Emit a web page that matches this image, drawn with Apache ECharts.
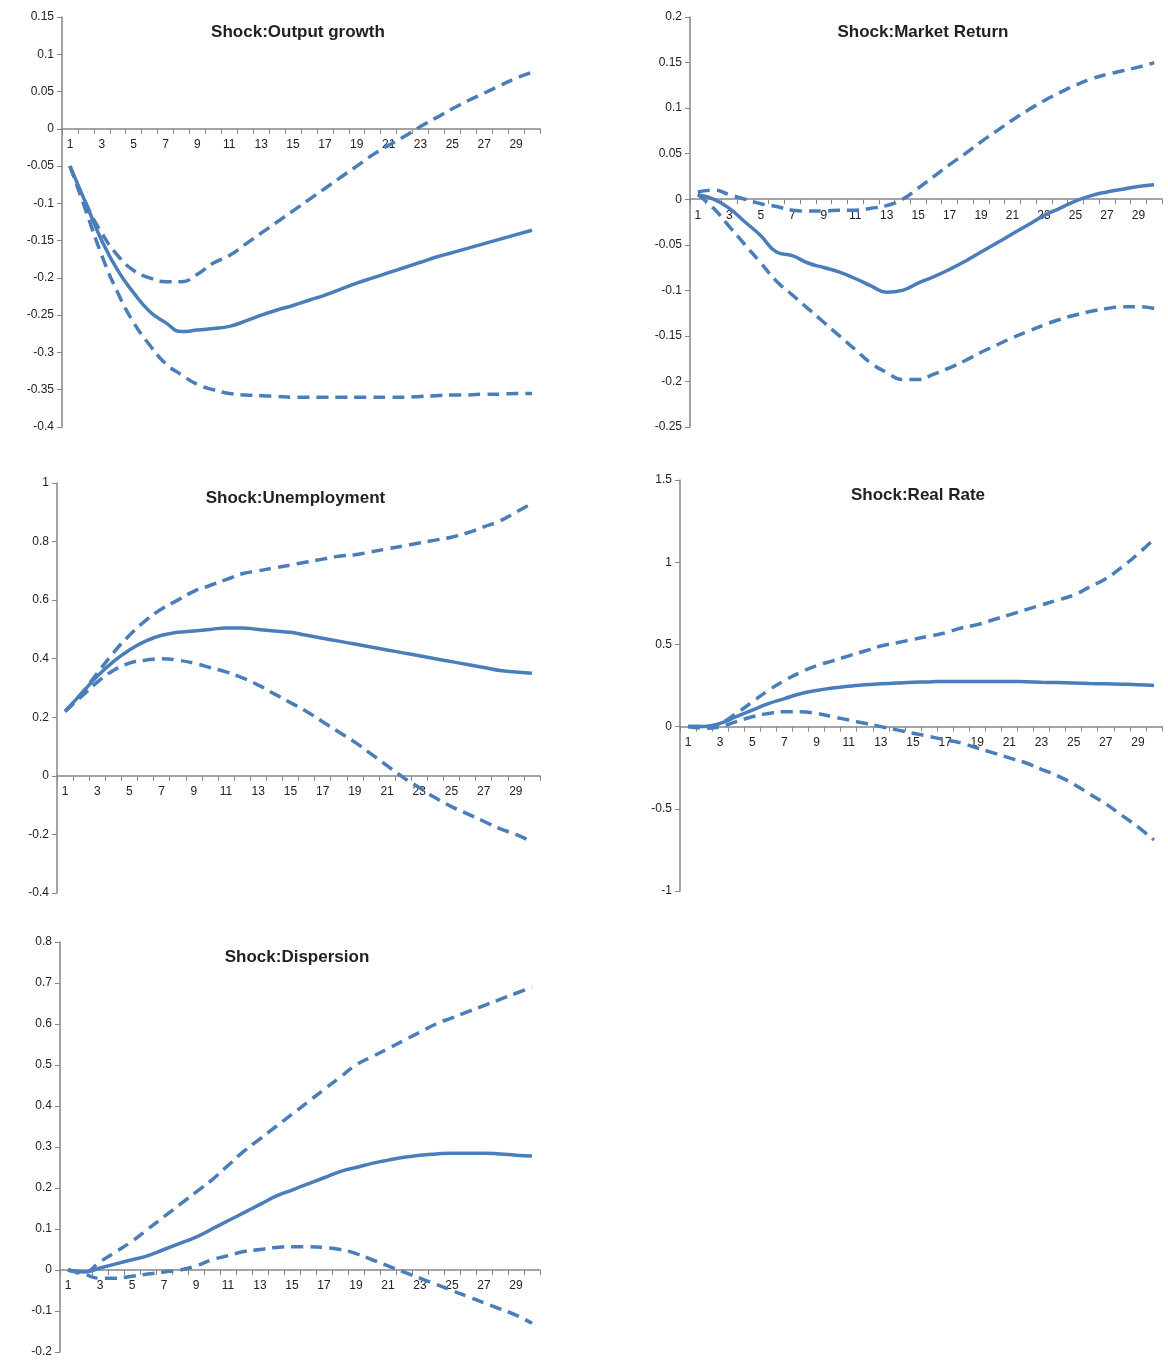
<!DOCTYPE html>
<html lang="en">
  <head>
    <meta charset="UTF-8" />
    <title>Impulse responses</title>
    <script src="https://cdn.jsdelivr.net/npm/echarts@6.0.0/dist/echarts.min.js"></script>
  </head>
  <body style="margin:0;background:#fff">
    <div id="main" style="width: 1168px; height: 1365px"></div>
    <script type="text/javascript">
      const periods = Array.from({ length: 30 }, (_, i) => String(i + 1));

      const titles = ["Shock:Output growth", "Shock:Market Return", "Shock:Unemployment", "Shock:Real Rate", "Shock:Dispersion"];

      const outMid = [-0.05,-0.1,-0.15,-0.19,-0.22,-0.245,-0.26,-0.272,-0.27,-0.268,-0.265,-0.258,-0.25,-0.243,-0.237,-0.23,-0.223,-0.215,-0.207,-0.2,-0.193,-0.186,-0.179,-0.172,-0.166,-0.16,-0.154,-0.148,-0.142,-0.136];
      const outUp = [-0.05,-0.1,-0.14,-0.17,-0.19,-0.2,-0.205,-0.205,-0.195,-0.18,-0.17,-0.155,-0.14,-0.125,-0.11,-0.095,-0.08,-0.065,-0.05,-0.035,-0.022,-0.01,0.003,0.015,0.027,0.038,0.048,0.058,0.068,0.076];
      const outLo = [-0.05,-0.11,-0.17,-0.22,-0.26,-0.29,-0.315,-0.33,-0.343,-0.35,-0.355,-0.357,-0.358,-0.359,-0.36,-0.36,-0.36,-0.36,-0.36,-0.36,-0.36,-0.36,-0.359,-0.358,-0.357,-0.357,-0.356,-0.356,-0.355,-0.355];

      const mktMid = [0.005,0,-0.01,-0.025,-0.04,-0.058,-0.062,-0.07,-0.075,-0.08,-0.087,-0.095,-0.102,-0.1,-0.092,-0.085,-0.077,-0.068,-0.058,-0.048,-0.038,-0.028,-0.018,-0.01,-0.002,0.004,0.008,0.011,0.014,0.016];
      const mktUp = [0.008,0.01,0.005,0,-0.005,-0.008,-0.012,-0.013,-0.013,-0.012,-0.012,-0.01,-0.007,0,0.012,0.025,0.038,0.05,0.063,0.075,0.087,0.098,0.108,0.117,0.125,0.132,0.137,0.141,0.145,0.15];
      const mktLo = [0.005,-0.01,-0.03,-0.05,-0.07,-0.09,-0.105,-0.12,-0.135,-0.15,-0.165,-0.18,-0.19,-0.198,-0.198,-0.192,-0.185,-0.177,-0.168,-0.16,-0.152,-0.145,-0.138,-0.132,-0.127,-0.123,-0.12,-0.118,-0.118,-0.12];

      const unMid = [0.22,0.28,0.34,0.39,0.43,0.46,0.48,0.49,0.495,0.5,0.505,0.505,0.5,0.495,0.49,0.48,0.47,0.46,0.45,0.44,0.43,0.42,0.41,0.4,0.39,0.38,0.37,0.36,0.355,0.35];
      const unUp = [0.22,0.28,0.35,0.42,0.48,0.53,0.57,0.6,0.63,0.65,0.67,0.69,0.7,0.71,0.72,0.73,0.74,0.75,0.755,0.765,0.775,0.785,0.795,0.805,0.815,0.83,0.85,0.87,0.9,0.93];
      const unLo = [0.22,0.27,0.32,0.36,0.385,0.395,0.4,0.395,0.385,0.37,0.355,0.335,0.31,0.28,0.25,0.22,0.185,0.15,0.115,0.075,0.035,-0.005,-0.04,-0.075,-0.105,-0.13,-0.155,-0.18,-0.2,-0.225];

      const rrMid = [0,0,0.02,0.06,0.1,0.14,0.17,0.2,0.22,0.235,0.245,0.255,0.26,0.265,0.27,0.272,0.275,0.275,0.275,0.275,0.275,0.273,0.27,0.268,0.265,0.262,0.26,0.258,0.255,0.25];
      const rrUp = [0,0,0.02,0.08,0.15,0.22,0.28,0.33,0.37,0.4,0.43,0.46,0.49,0.51,0.53,0.55,0.57,0.6,0.62,0.65,0.68,0.71,0.74,0.77,0.8,0.85,0.9,0.97,1.05,1.14];
      const rrLo = [0,-0.01,0,0.03,0.06,0.08,0.09,0.09,0.08,0.06,0.04,0.02,0,-0.02,-0.04,-0.06,-0.08,-0.1,-0.13,-0.16,-0.19,-0.22,-0.26,-0.3,-0.35,-0.41,-0.47,-0.54,-0.61,-0.69];

      const dsMid = [0,-0.005,0.005,0.015,0.025,0.035,0.05,0.065,0.08,0.1,0.12,0.14,0.16,0.18,0.195,0.21,0.225,0.24,0.25,0.26,0.268,0.275,0.28,0.283,0.285,0.285,0.285,0.283,0.28,0.278];
      const dsUp = [0,-0.005,0.02,0.045,0.07,0.1,0.13,0.16,0.19,0.22,0.255,0.29,0.32,0.35,0.38,0.41,0.44,0.47,0.5,0.52,0.54,0.56,0.58,0.6,0.615,0.63,0.645,0.66,0.675,0.69];
      const dsLo = [0,-0.01,-0.02,-0.02,-0.015,-0.01,-0.005,0,0.01,0.025,0.035,0.045,0.05,0.055,0.057,0.057,0.055,0.05,0.04,0.025,0.01,-0.005,-0.02,-0.035,-0.05,-0.065,-0.08,-0.095,-0.11,-0.13];

      const panels = [
        { data: [outMid, outUp, outLo], min: -0.4, max: 0.15, step: 0.05, box: [62, 17, 478, 410] },
        { data: [mktMid, mktUp, mktLo], min: -0.25, max: 0.2, step: 0.05, box: [690, 17, 472, 410] },
        { data: [unMid, unUp, unLo], min: -0.4, max: 1, step: 0.2, box: [57, 483, 483, 410] },
        { data: [rrMid, rrUp, rrLo], min: -1, max: 1.5, step: 0.5, box: [680, 480, 482, 411] },
        { data: [dsMid, dsUp, dsLo], min: -0.2, max: 0.8, step: 0.1, box: [60, 942, 480, 410] },
      ];

      const blue = "#4a7ebb";
      const axisColor = "#868686";
      const grid = [], xAxis = [], yAxis = [], series = [], title = [];

      panels.forEach((p, i) => {
        const [l, t, w, h] = p.box;
        const below = (h * (0 - p.min)) / (p.max - p.min);
        grid.push({ left: l, top: t, width: w, height: h });
        title.push({
          text: titles[i],
          left: l + w / 2 - 8,
          top: t + 2,
          textAlign: "center",
          textStyle: { fontSize: 17, fontWeight: "bold", color: "#222", fontFamily: "Liberation Sans" },
        });
        xAxis.push({
          type: "category",
          gridIndex: i,
          data: periods,
          boundaryGap: true,
          axisLine: { onZero: true, lineStyle: { color: axisColor, width: 1.5 } },
          axisTick: { show: true, interval: 0, lineStyle: { color: axisColor } },
          axisLabel: { interval: 1, color: "#222", fontSize: 12, margin: 10 - below },
        });
        yAxis.push({
          type: "value",
          gridIndex: i,
          min: p.min,
          max: p.max,
          interval: p.step,
          splitLine: { show: false },
          axisLine: { show: true, lineStyle: { color: axisColor, width: 1.5 } },
          axisTick: { show: true, lineStyle: { color: axisColor } },
          axisLabel: { color: "#222", fontSize: 12, formatter: (v) => String(Math.round(v * 100) / 100) },
        });
        p.data.forEach((d, k) => {
          series.push({
            type: "line",
            xAxisIndex: i,
            yAxisIndex: i,
            data: d,
            smooth: true,
            symbol: "none",
            z: 3,
            lineStyle: { color: blue, width: 3.5, type: k === 0 ? "solid" : [12, 7] },
          });
        });
      });

      const myChart = echarts.init(document.getElementById("main"));
      myChart.setOption({ animation: false, title, grid, xAxis, yAxis, series });
    </script>
  </body>
</html>
